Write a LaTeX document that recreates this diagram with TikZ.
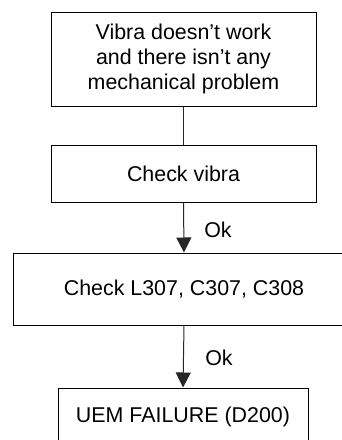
\documentclass[tikz,border=0pt]{standalone}
\usepackage{fontspec}
\setmainfont{Liberation Sans}
\usetikzlibrary{arrows.meta}
\begin{document}
\begin{tikzpicture}[x=1pt,y=1pt,
  box/.style={draw=black,line width=1pt,rectangle,inner sep=0pt,align=center,
    font=\fontsize{21.4}{25}\selectfont},
  lbl/.style={inner sep=0pt,font=\fontsize{21.4}{25}\selectfont},
  conn/.style={draw=black!85,line width=1pt},
  arr/.style={conn,-{Triangle[length=15pt,width=15pt]}}]
\useasboundingbox (0,0) rectangle (342,-440);
\clip (0,0) rectangle (342,-440);
\node[box,minimum width=265,minimum height=94] (b1) at (183.5,-59)
  {Vibra doesn’t work\\and there isn’t any\\mechanical problem};
\node[box,minimum width=265,minimum height=57] (b2) at (183.5,-173.5) {Check vibra};
\node[box,minimum width=342,minimum height=72] (b3) at (184,-289) {Check L307, C307, C308};
\node[box,minimum width=250,minimum height=58] (b4) at (183,-417) {UEM FAILURE (D200)};
\node[lbl] (ok1) at (218,-230) {Ok};
\node[lbl] (ok2) at (219,-358) {Ok};
\draw[conn] (b1.south) -- (b2.north);
\draw[arr] (b2.south) -- (b3.north);
\draw[arr] (b3.south) -- (b4.north);
\end{tikzpicture}
\end{document}
